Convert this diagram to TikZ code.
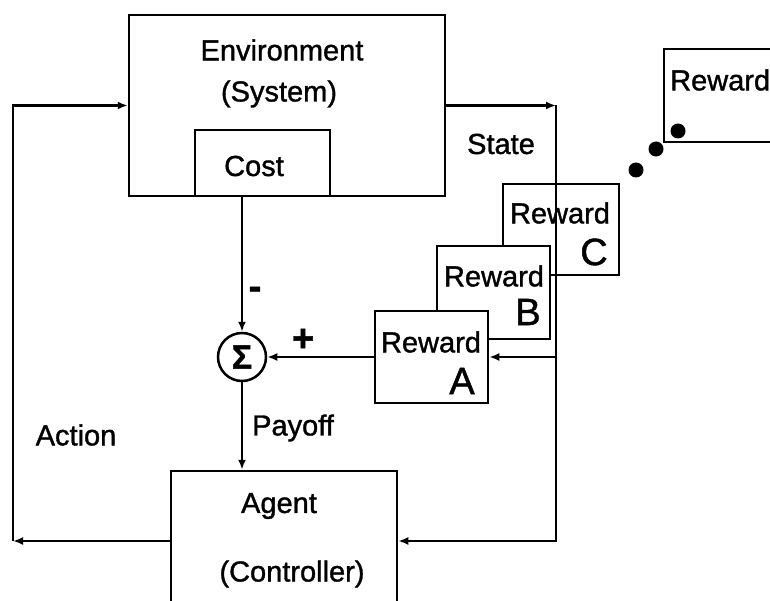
\documentclass[tikz,border=0pt]{standalone}
\usepackage{fontspec}
\setmainfont[FakeBold=1.2]{Liberation Sans}
\usetikzlibrary{arrows.meta}

\tikzset{
  box/.style={draw, fill=white, line width=2.5pt, inner sep=0pt},
  txt/.style={inner sep=0pt, font=\fontsize{29}{34}\selectfont},
  big/.style={inner sep=0pt, font=\fontsize{38}{44}\selectfont},
  arr/.style={-{Latex[length=10pt,width=8pt]}, line width=2.3pt},
  line/.style={line width=2.5pt},
}

\begin{document}
\begin{tikzpicture}[x=1pt,y=-1pt]
\clip (0,0) rectangle (770,601);

%Nodes
\node[box, minimum width=316pt, minimum height=181pt] (env)   at (287,105.5) {};
\node[box, minimum width=135pt, minimum height=66pt]  (cost)  at (262.5,163) {};
\node[box, minimum width=226pt, minimum height=140pt] (agent) at (284,541)   {};
\node[box, draw=none, minimum size=48pt, circle]      (sum)   at (242,357)   {};

\node[txt] (envt)  at (282,50)  {Environment};
\node[txt] (syst)  at (279,94)  {(System)};
\node[txt] (costt) at (254,166) {Cost};
\node[txt] (agt)   at (279,506) {Agent};
\node[txt] (ctrlt) at (292,574) {(Controller)};

%Reward boxes, back to front
\node[box, minimum width=156pt, minimum height=93pt] (rD) at (742,95.5)  {};
\node[txt, anchor=west] (rDt) at (670,80) {Reward};
\node[box, minimum width=116pt, minimum height=91pt] (rC) at (561,229.5) {};
\node[txt] (rCt) at (560,213) {Reward};
\node[big] (rCl) at (594,252) {C};
\node[box, minimum width=113pt, minimum height=93pt] (rB) at (493.5,292.5) {};
\node[txt] (rBt) at (494,276) {Reward};
\node[big] (rBl) at (528,312) {B};
\node[box, minimum width=113pt, minimum height=92pt] (rA) at (431.5,357) {};
\node[txt] (rAt) at (431,342) {Reward};
\node[big] (rAl) at (462,381) {A};

%Dots
\fill (678,131) circle (7.5pt);
\fill (656,149) circle (7.5pt);
\fill (636,170) circle (7.5pt);

%Summing junction
\draw[line] (sum) circle (24pt);
\node[inner sep=0pt, font=\fontsize{34}{40}\selectfont\bfseries] (sig) at (sum) {Σ};

%Coordinates
\coordinate (sc) at (556,105.5);
\coordinate (ab) at (13,541);

%Lines
\draw[arr] (env.east) -- (sc);
\draw[arr] (sc) |- (agent.east);
\draw[arr] (sc |- rA.east) -- (rA.east);
\draw[arr] (rA.west) -- (sum.east);
\draw[arr] (sum |- cost.south) -- (sum.north);
\draw[arr] (sum.south) -- (sum |- agent.north);
\draw[arr] (agent.west) -- (ab);
\draw[arr] (ab) |- (env.west);

%Labels
\node[txt] (statel)  at (501,144) {State};
\node[txt] (actionl) at (76,435)  {Action};
\node[txt] (payoffl) at (293,428) {Payoff};
\node[big] (minusl)  at (255,293) {\textbf{-}};
\node[big] (plusl)   at (303,340) {\textbf{+}};
\end{tikzpicture}
\end{document}
